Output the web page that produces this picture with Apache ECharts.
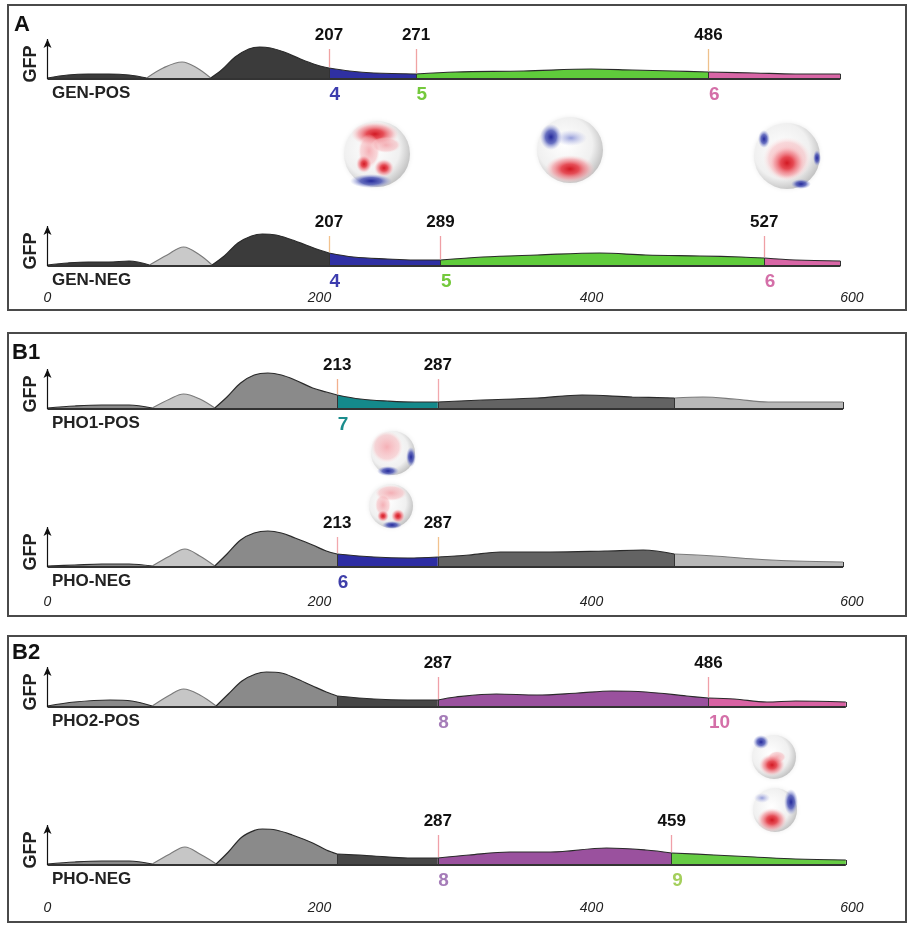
<!DOCTYPE html>
<html>
<head>
<meta charset="utf-8">
<script src="https://cdn.jsdelivr.net/npm/echarts@6/dist/echarts.min.js"></script>
<style>
html,body{margin:0;padding:0;background:#fff}
#chart{width:909px;height:926px}
</style>
</head>
<body>
<div id="chart"></div>
<script>
// ---- data: GFP traces (time in ms, GFP height) ----
var genPosT = [0, 15, 30, 45, 60, 73, 85, 99, 110, 120, 128, 138, 148, 156, 164, 174, 186, 198, 207, 222, 240, 271, 300, 350, 400, 430, 460, 486, 520, 550, 583];
var genPosV = [1, 4, 5, 5, 4, 1, 11, 17, 11, 1, 9, 22, 30, 32, 31, 27, 20, 14, 11, 8, 6, 5, 7, 8, 10, 9, 8, 7, 6, 5, 5];
var genPosCuts = [73, 120, 207, 271, 486];
var genPosTicks = [207, 271, 486];
var genPosStates = ['4', '5', '6'];

var genNegT = [0, 15, 30, 45, 60, 75, 88, 100, 112, 121, 130, 140, 150, 158, 168, 178, 190, 200, 207, 225, 250, 270, 289, 320, 360, 406, 440, 480, 510, 527, 550, 583];
var genNegV = [1, 3, 4, 4, 5, 1, 11, 19, 11, 1, 10, 23, 30, 32, 31, 27, 21, 16, 13, 9, 7, 6, 6, 9, 11, 13, 11, 10, 9, 8, 6, 5];
var genNegCuts = [75, 121, 207, 289, 527];
var genNegTicks = [207, 289, 527];
var genNegStates = ['4', '5', '6'];

var pho1PosT = [0, 20, 40, 60, 77, 90, 100, 112, 123, 132, 142, 152, 162, 172, 182, 195, 205, 213, 230, 250, 270, 287, 320, 360, 393, 430, 461, 482, 505, 530, 555, 585];
var pho1PosV = [1, 3, 4, 4, 1, 10, 15, 10, 1, 12, 26, 34, 36, 34, 29, 21, 17, 14, 10, 8, 7, 7, 9, 11, 14, 12, 11, 12, 10, 7, 7, 7];
var pho1PosCuts = [77, 123, 213, 287, 461];
var pho1PosTicks = [213, 287];
var pho1PosStates = ['7'];

var phoNeg1T = [0, 20, 40, 60, 77, 90, 101, 112, 123, 132, 142, 152, 162, 172, 182, 195, 205, 213, 240, 265, 287, 310, 333, 370, 410, 438, 461, 490, 520, 550, 585];
var phoNeg1V = [1, 2, 3, 3, 1, 11, 18, 11, 1, 13, 27, 34, 36, 34, 29, 22, 16, 13, 10, 9, 10, 12, 15, 15, 16, 17, 13, 11, 8, 6, 5];
var phoNeg1Cuts = [77, 123, 213, 287, 461];
var phoNeg1Ticks = [213, 287];
var phoNeg1States = ['6'];

var pho2PosT = [0, 20, 46, 62, 77, 90, 100, 112, 124, 133, 143, 153, 161, 172, 182, 195, 205, 213, 240, 265, 287, 300, 330, 360, 390, 415, 440, 470, 486, 505, 529, 550, 587];
var pho2PosV = [1, 5, 7, 6, 1, 12, 18, 12, 1, 13, 26, 33, 35, 34, 29, 21, 15, 11, 8, 7, 7, 10, 13, 12, 14, 16, 15, 11, 9, 8, 5, 6, 5];
var pho2PosCuts = [77, 124, 213, 287, 486];
var pho2PosTicks = [287, 486];
var pho2PosStates = ['8', '10'];

var phoNeg2T = [0, 20, 40, 60, 77, 90, 101, 112, 124, 133, 143, 153, 158, 168, 180, 195, 205, 213, 240, 265, 287, 310, 340, 370, 411, 440, 459, 490, 520, 550, 587];
var phoNeg2V = [1, 3, 4, 4, 1, 11, 18, 11, 1, 13, 28, 35, 36, 35, 30, 22, 15, 11, 9, 7, 7, 10, 13, 13, 17, 15, 12, 10, 8, 6, 5];
var phoNeg2Cuts = [77, 124, 213, 287, 459];
var phoNeg2Ticks = [287, 459];
var phoNeg2States = ['8', '9'];

var xTicks = [0, 200, 400, 600];

// ---- styles ----
var grayA = ['#3b3b3b', '#c9c9c9', '#3b3b3b'];
var grayB = ['#8a8a8a', '#c6c6c6', '#8a8a8a'];

var traces = [
    {name: 'GEN-POS', t: genPosT, v: genPosV, cuts: genPosCuts, ticks: genPosTicks, states: genPosStates,
     colors: grayA.concat(['#2f30a3', '#5fcb3b', '#d866a6']),
     stateColors: ['#3c3cae', '#74c93c', '#d46fa8'], tickColors: ['#f0a3a3', '#f0a3a3', '#eec18c']},
    {name: 'GEN-NEG', t: genNegT, v: genNegV, cuts: genNegCuts, ticks: genNegTicks, states: genNegStates,
     colors: grayA.concat(['#2f30a3', '#5fcb3b', '#d866a6']),
     stateColors: ['#3c3cae', '#74c93c', '#d46fa8'], tickColors: ['#f2c28e', '#ef9fa5', '#ef9fa5']},
    {name: 'PHO1-POS', t: pho1PosT, v: pho1PosV, cuts: pho1PosCuts, ticks: pho1PosTicks, states: pho1PosStates,
     colors: grayB.concat(['#14898b', '#636363', '#b8b8b8']),
     stateColors: ['#1b8d8d'], tickColors: ['#f2b08e', '#f2a8ad']},
    {name: 'PHO-NEG', t: phoNeg1T, v: phoNeg1V, cuts: phoNeg1Cuts, ticks: phoNeg1Ticks, states: phoNeg1States,
     colors: grayB.concat(['#2d2da3', '#636363', '#b8b8b8']),
     stateColors: ['#3f3fa9'], tickColors: ['#f2a8ad', '#f2c28e']},
    {name: 'PHO2-POS', t: pho2PosT, v: pho2PosV, cuts: pho2PosCuts, ticks: pho2PosTicks, states: pho2PosStates,
     colors: grayB.concat(['#474747', '#9a519e', '#d862a3']),
     stateColors: ['#a57cb8', '#d46fa8'], tickColors: ['#f0a0a8', '#f0a0a8']},
    {name: 'PHO-NEG', t: phoNeg2T, v: phoNeg2V, cuts: phoNeg2Cuts, ticks: phoNeg2Ticks, states: phoNeg2States,
     colors: grayB.concat(['#474747', '#9a519e', '#66cc44']),
     stateColors: ['#a57cb8', '#a4cf5c'], tickColors: ['#f0a0a8', '#f0a0a8']}
];

// layout: baseline y of each trace, axis label margin for lower traces
var baselines = [79, 266, 409, 567, 707, 865];
var labelMargins = [0, 5, 0, 8, 0, 16];
var X0 = 47.5, X600 = 863.5;

function valueAt(tr, t) {
    var k = tr.t.indexOf(t);
    return k >= 0 ? tr.v[k] : 0;
}

var grids = [], xAxes = [], yAxes = [], series = [];

traces.forEach(function (tr, i) {
    var base = baselines[i];
    var lower = i % 2 === 1;
    grids.push({left: X0, right: 909 - X600, top: base - 52, height: 72});
    xAxes.push({
        gridIndex: i, type: 'value', min: 0, max: 600, interval: 200,
        show: lower,
        axisLine: {show: false}, axisTick: {show: false}, splitLine: {show: false},
        axisLabel: {
            show: lower, margin: labelMargins[i], fontStyle: 'italic', fontSize: 14,
            color: '#222', fontFamily: 'Liberation Sans', alignMaxLabel: 'right',
            customValues: xTicks
        }
    });
    yAxes.push({gridIndex: i, type: 'value', min: -20, max: 52, show: false});

    // coloured segments
    var tEnd = tr.t[tr.t.length - 1];
    var bounds = [tr.t[0]].concat(tr.cuts, [tEnd]);
    for (var s = 0; s < bounds.length - 1; s++) {
        var pts = [];
        for (var k = 0; k < tr.t.length; k++) {
            if (tr.t[k] >= bounds[s] && tr.t[k] <= bounds[s + 1]) pts.push([tr.t[k], tr.v[k]]);
        }
        var light = tr.colors[s] === '#c9c9c9' || tr.colors[s] === '#c6c6c6' || tr.colors[s] === '#b8b8b8';
        series.push({
            type: 'line', xAxisIndex: i, yAxisIndex: i, data: pts,
            smooth: 0.35, symbol: 'none', silent: true, animation: false, z: 2,
            lineStyle: {color: light ? '#7a7a7a' : '#2a2a2a', width: 1.2},
            areaStyle: {color: tr.colors[s], opacity: 1}
        });
    }

    // baseline + markers
    var lines = [];
    lines.push([{coord: [0, 0], symbol: 'none'},
                {coord: [0, 40], symbol: 'arrow', symbolSize: [6, 9]}]);
    tr.cuts.concat([tEnd]).forEach(function (c) {
        lines.push([{coord: [c, 0]}, {coord: [c, valueAt(tr, c)], lineStyle: {color: '#333', width: 1}}]);
    });
    tr.ticks.forEach(function (c, j) {
        lines.push([
            {coord: [c, valueAt(tr, c) + 1]},
            {coord: [c, 30], lineStyle: {color: tr.tickColors[j], width: 1.3},
             label: {show: true, position: 'end', distance: 5, formatter: String(c),
                     color: '#111', fontSize: 17, fontWeight: 'bold', fontFamily: 'Liberation Sans'}}
        ]);
    });
    var points = tr.states.map(function (st, j) {
        return {
            coord: [tr.ticks[j], -16], symbol: 'circle', symbolSize: 1,
            itemStyle: {color: 'rgba(0,0,0,0)'},
            label: {show: true, position: 'right', distance: 0, formatter: st,
                    color: tr.stateColors[j], fontSize: 19, fontWeight: 'bold', fontFamily: 'Liberation Sans'}
        };
    });
    series.push({
        type: 'line', xAxisIndex: i, yAxisIndex: i, data: [[0, 0], [tEnd, 0]],
        symbol: 'none', silent: true, animation: false, z: 3,
        lineStyle: {color: '#333', width: 2},
        markLine: {
            silent: true, animation: false, symbol: ['none', 'none'],
            label: {show: false},
            lineStyle: {color: '#111', width: 1.2, type: 'solid'},
            emphasis: {disabled: true},
            data: lines
        },
        markPoint: {silent: true, animation: false, data: points}
    });
});

// ---- decorations: panels, labels, scalp maps ----
var graphics = [];
[[8, 5, 898, 305], [8, 333, 898, 283], [8, 636, 898, 286]].forEach(function (r) {
    graphics.push({type: 'rect', shape: {x: r[0], y: r[1], width: r[2], height: r[3]},
                   style: {fill: 'none', stroke: '#4a4a4a', lineWidth: 2}, silent: true});
});
[['A', 14, 25], ['B1', 12, 353], ['B2', 12, 653]].forEach(function (p) {
    graphics.push({type: 'text', x: p[1], y: p[2],
                   style: {text: p[0], font: 'bold 22px "Liberation Sans"', fill: '#111', textVerticalAlign: 'middle'}});
});
traces.forEach(function (tr, i) {
    var base = baselines[i];
    graphics.push({type: 'text', x: 31, y: base - 15, rotation: Math.PI / 2,
                   style: {text: 'GFP', font: 'bold 18px "Liberation Sans"', fill: '#222',
                           textAlign: 'center', textVerticalAlign: 'middle'}});
    graphics.push({type: 'text', x: 52, y: base + 14,
                   style: {text: tr.name, font: 'bold 17px "Liberation Sans"', fill: '#222',
                           textVerticalAlign: 'middle'}});
});

var tones = {
    r: [[0, 'rgba(210,25,35,1)'], [0.35, 'rgba(228,60,70,0.9)'], [0.7, 'rgba(242,140,148,0.6)'], [1, 'rgba(255,210,210,0)']],
    lr: [[0, 'rgba(242,150,158,0.75)'], [0.75, 'rgba(246,180,185,0.5)'], [1, 'rgba(255,225,225,0)']],
    b: [[0, 'rgba(35,40,155,1)'], [0.5, 'rgba(70,80,180,0.8)'], [1, 'rgba(150,160,220,0)']],
    lb: [[0, 'rgba(125,135,210,0.8)'], [1, 'rgba(175,180,230,0)']]
};
function radial(stops) {
    return {type: 'radial', x: 0.5, y: 0.5, r: 0.5,
            colorStops: stops.map(function (s) { return {offset: s[0], color: s[1]}; })};
}
function headMap(cx, cy, r, blobs) {
    var kids = [{
        type: 'circle', shape: {cx: cx, cy: cy, r: r},
        style: {fill: {type: 'radial', x: 0.42, y: 0.42, r: 0.6,
                       colorStops: [{offset: 0, color: '#ffffff'}, {offset: 0.7, color: '#f0f0f0'}, {offset: 1, color: '#c4c4c4'}]},
                shadowBlur: 4, shadowColor: 'rgba(0,0,0,0.08)'}
    }];
    blobs.forEach(function (b) {
        kids.push({type: 'circle', x: cx + b[0], y: cy + b[1], scaleX: b[2] / b[3],
                   shape: {cx: 0, cy: 0, r: b[3]}, style: {fill: radial(tones[b[4]])}});
    });
    return {type: 'group', silent: true, children: kids};
}
graphics.push(headMap(377, 154, 33, [[-2, -20, 24, 12, 'r'], [-8, -3, 11, 17, 'lr'], [9, -9, 15, 8, 'lr'],
                                       [-13, 10, 8, 9, 'r'], [7, 14, 10, 9, 'r'], [-6, 27, 21, 7, 'b']]));
graphics.push(headMap(570, 150, 33, [[-19, -13, 11, 13, 'b'], [1, -12, 16, 8, 'lb'], [0, 19, 25, 14, 'r']]));
graphics.push(headMap(787, 156, 33, [[0, 3, 24, 22, 'lr'], [0, 7, 18, 17, 'r'], [-23, -17, 6, 9, 'b'],
                                       [30, 2, 4, 8, 'b'], [14, 28, 10, 5, 'b']]));
graphics.push(headMap(393, 453, 22, [[-6, -6, 16, 16, 'lr'], [18, 4, 5, 10, 'b'], [-5, 18, 11, 5, 'b']]));
graphics.push(headMap(391, 506, 22, [[0, -13, 16, 8, 'lr'], [-8, -1, 8, 11, 'lr'], [-8, 10, 6, 6, 'r'],
                                       [7, 10, 7, 7, 'r'], [1, 19, 10, 4, 'b']]));
graphics.push(headMap(774, 757, 22, [[-13, -15, 8, 7, 'b'], [3, 0, 9, 6, 'lr'], [-2, 8, 13, 11, 'r']]));
graphics.push(headMap(775, 810, 22, [[16, -8, 7, 13, 'b'], [-13, -12, 8, 5, 'lb'], [-3, 10, 15, 12, 'r']]));

var myChart = echarts.init(document.getElementById('chart'));
var option = {
    backgroundColor: '#fff',
    animation: false,
    grid: grids,
    xAxis: xAxes,
    yAxis: yAxes,
    series: series,
    graphic: graphics
};
myChart.setOption(option);
</script>
</body>
</html>
